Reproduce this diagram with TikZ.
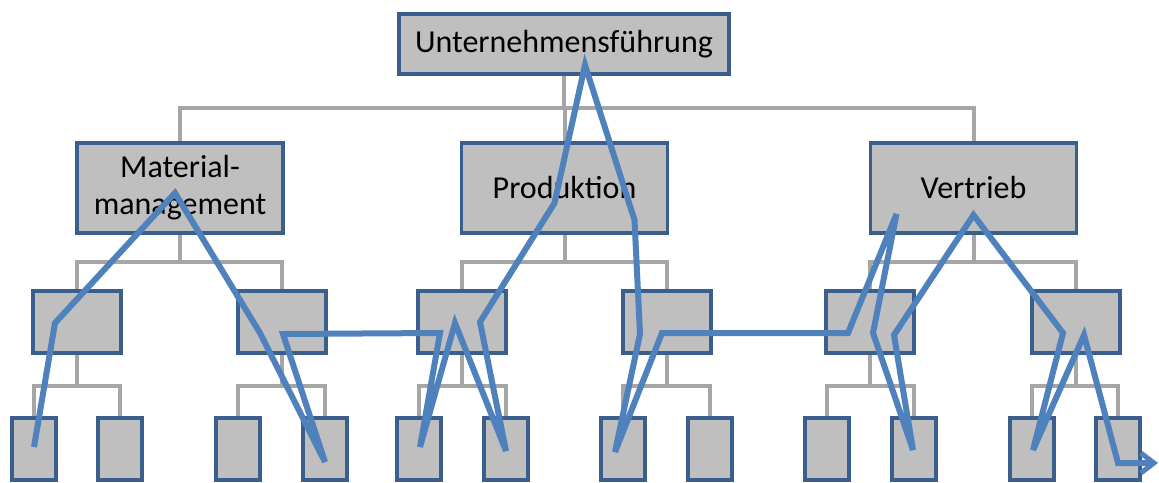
\documentclass[tikz,border=0pt]{standalone}
\usepackage{fontspec}
\setmainfont{Carlito}
\usetikzlibrary{calc,arrows.meta,backgrounds}

\definecolor{boxfill}{HTML}{BFBFBF}
\definecolor{boxline}{HTML}{3B5F8C}
\definecolor{treeline}{HTML}{A6A6A6}
\definecolor{route}{HTML}{4F81BD}

\tikzset{
  unit/.style={draw=boxline, fill=boxfill, line width=3.2pt, rectangle,
               inner sep=0pt, outer sep=0pt, align=center,
               font=\fontsize{32}{37}\selectfont},
  headbox/.style={unit, minimum width=330pt, minimum height=60pt},
  deptbox/.style={unit, minimum width=206pt, minimum height=90pt},
  groupbox/.style={unit, minimum width=88pt, minimum height=62pt},
  teambox/.style={unit, minimum width=44pt, minimum height=62pt},
  tree/.style={draw=treeline, line width=4pt},
  walk/.style={draw=route, line width=6pt, line join=miter},
}

\begin{document}
\begin{tikzpicture}[x=1pt, y=-1pt]
\useasboundingbox (0,0) rectangle (1159,482);

% bus levels of the organisation chart
\coordinate (bus1) at (0,108);
\coordinate (bus2) at (0,262);
\coordinate (bus3) at (0,386);

% head
\node[headbox] (top) at (564,44) {Unternehmensführung};

% departments
\node[deptbox] (mat)  at (180,188)   {Material-\\management};
\node[deptbox] (prod) at (564.5,188) {Produktion};
\node[deptbox] (vert) at (973.5,188) {Vertrieb};

% groups
\node[groupbox] (ga) at (77,322)   {};
\node[groupbox] (gb) at (282,322)  {};
\node[groupbox] (gc) at (462,322)  {};
\node[groupbox] (gd) at (667,322)  {};
\node[groupbox] (ge) at (870,322)  {};
\node[groupbox] (gf) at (1076,322) {};

% teams
\node[teambox] (ta) at (34,449)   {};
\node[teambox] (tb) at (120,449)  {};
\node[teambox] (tc) at (238,449)  {};
\node[teambox] (td) at (325,449)  {};
\node[teambox] (te) at (419,449)  {};
\node[teambox] (tf) at (506,449)  {};
\node[teambox] (tg) at (623,449)  {};
\node[teambox] (th) at (710,449)  {};
\node[teambox] (ti) at (827,449)  {};
\node[teambox] (tj) at (914,449)  {};
\node[teambox] (tk) at (1032,449) {};
\node[teambox] (tl) at (1118,449) {};

% reporting lines, behind the boxes
\begin{scope}[on background layer]
\path[tree] (top.south) -- (top.south |- bus1);
\path[tree] (mat.north) -- (mat.north |- bus1) -| (vert.north);
\path[tree] (prod.north) -- (prod.north |- bus1);

\foreach \d/\l/\r in {mat/ga/gb, prod/gc/gd, vert/ge/gf}{
  \path[tree] (\d.south) -- (\d.south |- bus2);
  \path[tree] (\l.north) -- (\l.north |- bus2) -| (\r.north);
}
\foreach \g/\l/\r in {ga/ta/tb, gb/tc/td, gc/te/tf, gd/tg/th, ge/ti/tj, gf/tk/tl}{
  \path[tree] (\g.south) -- (\g.south |- bus3);
  \path[tree] (\l.north) -- (\l.north |- bus3) -| (\r.north);
}
\end{scope}

% route through the hierarchy
\coordinate (exit) at (1158,463);
\path[walk, -{Straight Barb[length=13pt,width=20pt,line width=5pt]}]
  ($(ta)+(0,-2)$)
  -- ($(ga)+(-22,1)$)
  -- ($(mat)+(-5,5)$)
  -- ($(gb)+(-22,11)$)
  -- ($(td)+(0,13)$)
  -- ($(gb)+(1,12)$)
  -- ($(gc)+(-22,11)$)
  -- ($(te)+(1,-2)$)
  -- ($(gc)+(-7,1)$)
  -- ($(tf)+(0,2)$)
  -- ($(gc)+(18,0)$)
  -- ($(prod)+(-10,15)$)
  -- ($(top)+(21,21)$)
  -- ($(prod)+(70,32)$)
  -- ($(gd)+(-27,12)$)
  -- ($(tg)+(-8,3)$)
  -- ($(gd)+(-5,11)$)
  -- ($(ge)+(-22,11)$)
  -- ($(vert)+(-77,26)$)
  -- ($(ge)+(3,11)$)
  -- ($(tj)+(-1,1)$)
  -- ($(ge)+(24,13)$)
  -- ($(vert)+(0,27)$)
  -- ($(gf)+(-13,11)$)
  -- ($(tk)+(1,1)$)
  -- ($(gf)+(8,13)$)
  -- ($(tl)+(0,14)$)
  -- (exit);
\end{tikzpicture}
\end{document}
